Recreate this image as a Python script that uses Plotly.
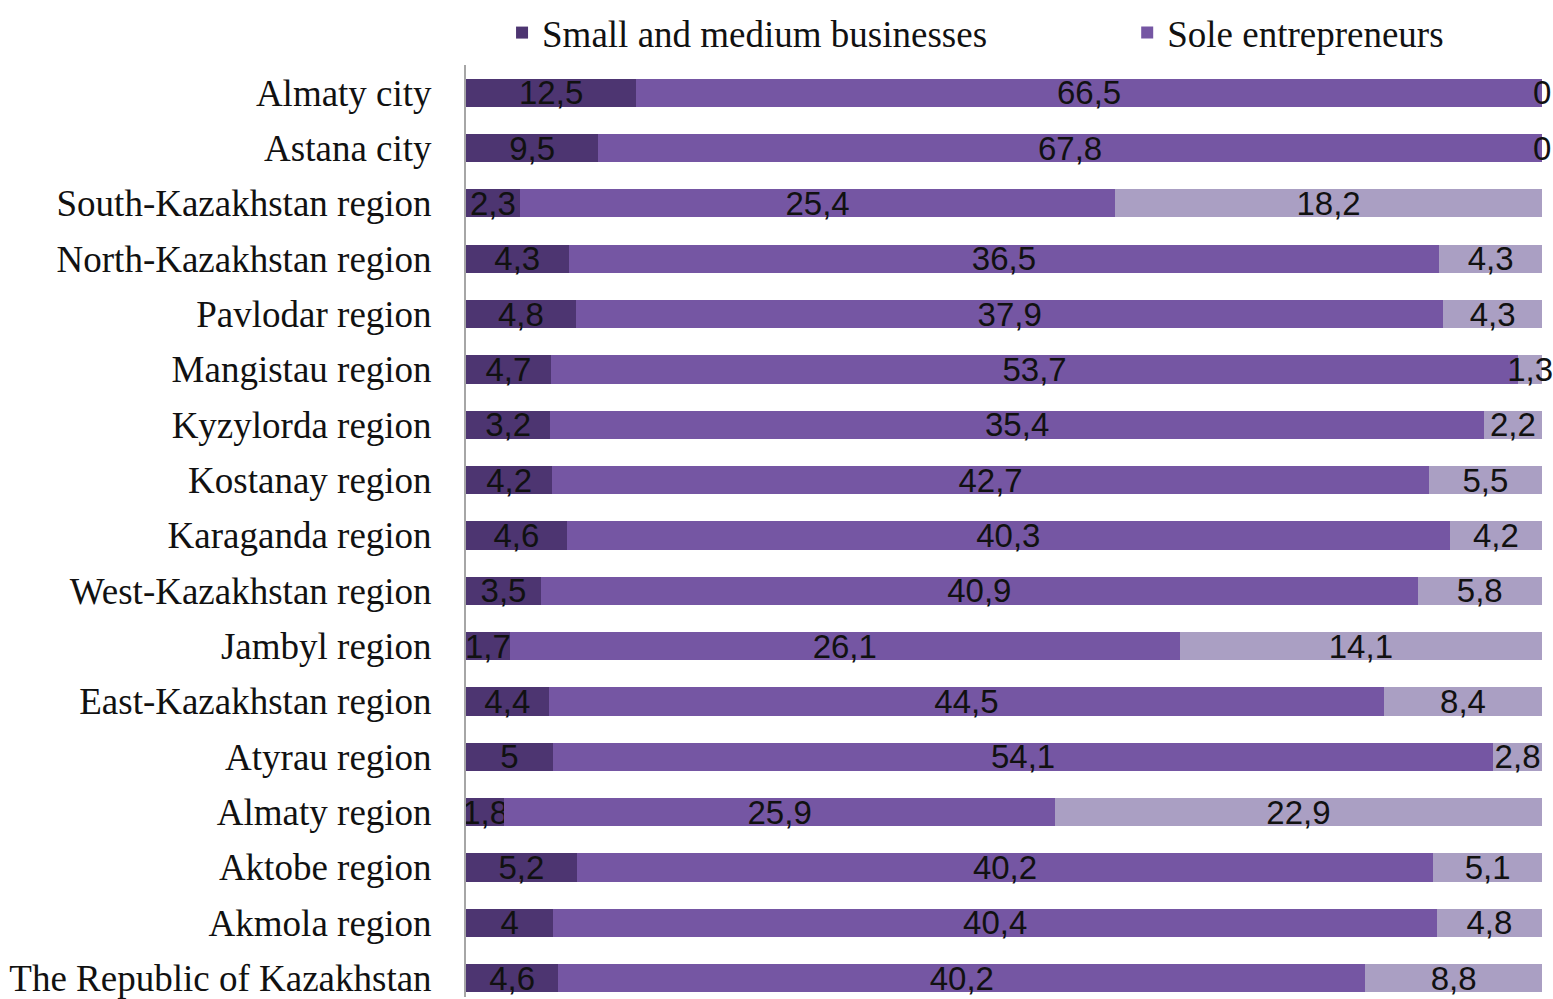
import plotly.graph_objects as go

categories = ["Almaty city", "Astana city", "South-Kazakhstan region", "North-Kazakhstan region",
              "Pavlodar region", "Mangistau region", "Kyzylorda region", "Kostanay region",
              "Karaganda region", "West-Kazakhstan region", "Jambyl region", "East-Kazakhstan region",
              "Atyrau region", "Almaty region", "Aktobe region", "Akmola region",
              "The Republic of Kazakhstan"]
smb = [12.5, 9.5, 2.3, 4.3, 4.8, 4.7, 3.2, 4.2, 4.6, 3.5, 1.7, 4.4, 5, 1.8, 5.2, 4, 4.6]
sole = [66.5, 67.8, 25.4, 36.5, 37.9, 53.7, 35.4, 42.7, 40.3, 40.9, 26.1, 44.5, 54.1, 25.9, 40.2, 40.4, 40.2]
other = [0, 0, 18.2, 4.3, 4.3, 1.3, 2.2, 5.5, 4.2, 5.8, 14.1, 8.4, 2.8, 22.9, 5.1, 4.8, 8.8]

series_names = ["Small and medium businesses", "Sole entrepreneurs", "Other"]
colors = ["#4d3571", "#7556a3", "#aa9fc3"]
legend_ids = ["legend", "legend2", None]

LABEL_FONT = dict(family="Liberation Sans Narrow, Liberation Sans, sans-serif", size=33, color="#111111")
SERIF = "Liberation Serif, Times New Roman, serif"


def fmt(v):
    return ("%g" % v).replace(".", ",")


fig = go.Figure()
for vals, name, col, lg in zip([smb, sole, other], series_names, colors, legend_ids):
    fig.add_trace(go.Bar(
        y=categories, x=vals, name=name, orientation="h",
        marker=dict(color=col, line=dict(width=0)),
        text=[fmt(v) if v != 0 else "" for v in vals],
        textposition="inside", insidetextanchor="middle",
        textangle=0, constraintext="none",
        textfont=LABEL_FONT,
        cliponaxis=False,
        showlegend=lg is not None,
        legend=lg if lg else "legend",
    ))

# labels for zero-width segments, placed at the end of the (normalized) bar
annotations = []
for cat, v in zip(categories, other):
    if v == 0:
        annotations.append(dict(x=100, y=cat, xref="x", yref="y", text=fmt(v),
                                showarrow=False, xanchor="center", yanchor="middle",
                                font=LABEL_FONT))

legend_common = dict(orientation="h", xanchor="left", y=1.0343, yanchor="middle",
                     font=dict(family=SERIF, size=37, color="#111111"),
                     itemwidth=30, bgcolor="rgba(0,0,0,0)")

fig.update_layout(
    width=1553, height=999,
    barmode="stack", barnorm="percent", bargap=0.49,
    margin=dict(l=466, r=11, t=65, b=0),
    plot_bgcolor="white", paper_bgcolor="white",
    font=dict(family=SERIF, color="#111111"),
    legend=dict(x=0.0335, **legend_common),
    legend2=dict(x=0.6145, **legend_common),
    xaxis=dict(range=[0, 100.01], visible=False, showgrid=False, zeroline=False),
    yaxis=dict(categoryorder="array", categoryarray=categories,
               range=[16.34, -0.5], showline=True, linecolor="#a6a6a6", linewidth=2,
               ticks="", showgrid=False, zeroline=False, ticklabelstandoff=25,
               tickfont=dict(family=SERIF, size=37, color="#111111")),
    annotations=annotations,
)

fig.write_html("out.html", config={"displayModeBar": False},
               post_script="document.body.style.margin='0';document.body.style.overflow='hidden';")
